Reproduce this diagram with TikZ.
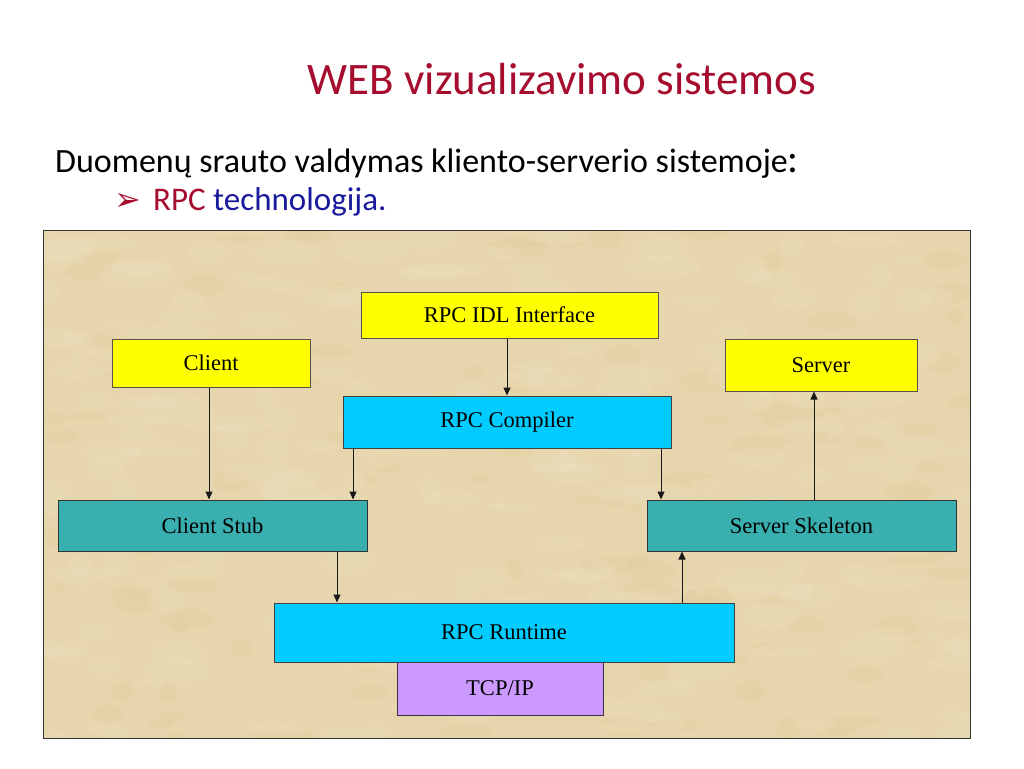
\documentclass[tikz,border=0pt]{standalone}
\usepackage{fontspec}
\setmainfont{Liberation Serif}
\newfontfamily\calibri{Carlito}
\newfontfamily\dejavu{DejaVu Sans}
\usetikzlibrary{arrows.meta}
\definecolor{titlered}{HTML}{A50C2E}
\definecolor{bulletblue}{HTML}{1A1A9C}
\definecolor{parch}{HTML}{E7D6AD}
\definecolor{parchlight}{HTML}{F0E3C4}
\definecolor{parchdark}{HTML}{DCC692}
\definecolor{yel}{HTML}{FFFF00}
\definecolor{cyn}{HTML}{00CCFF}
\definecolor{tealbox}{HTML}{3AAFB0}
\definecolor{purp}{HTML}{CC99FF}
\tikzset{
  box/.style={draw=#1, line width=1pt, inner sep=0pt, font=\fontsize{22.5}{26}\selectfont},
  yelbox/.style={box=black!60!yellow!60!black, fill=yel},
  cynbox/.style={box=black!75, fill=cyn},
  tealb/.style={box=black!80, fill=tealbox},
  purpbox/.style={box=black!70!purp, fill=purp},
  conn/.style={line width=1pt, draw=black!90, -{Triangle[length=8pt,width=7pt]}},
}
\begin{document}
\begin{tikzpicture}[x=1pt,y=-1pt]
\useasboundingbox (0,0) rectangle (1024,768);
\fill[white] (0,0) rectangle (1024,768);
% title
\node[anchor=base, text=titlered, font=\calibri\fontsize{45}{50}\selectfont, inner sep=0pt] (title) at (562,94) {WEB vizualizavimo sistemos};
\node[anchor=base west, font=\calibri\fontsize{34}{38}\selectfont, inner sep=0pt] (sub) at (55,172) {Duomenų srauto valdymas kliento-serverio sistemoje\fontsize{41}{41}\selectfont:};
\node[anchor=base west, text=titlered, font=\dejavu\fontsize{32}{34}\selectfont, inner sep=0pt] (bul) at (114,210) {➢};
\node[anchor=base west, font=\calibri\fontsize{33}{38}\selectfont, inner sep=0pt] (rpc) at (153,210) {\textcolor{titlered}{RPC} \textcolor{bulletblue}{technologija}\textcolor{bulletblue}{.}};
% panel
\fill[parch] (43,230) rectangle (970,738);
\begin{scope}
\clip (43,230) rectangle (970,738);
\pgfmathsetseed{42}
\foreach \i in {1,...,220} {
  \pgfmathsetmacro\px{43+927*rnd}
  \pgfmathsetmacro\py{230+508*rnd}
  \pgfmathsetmacro\rx{10+30*rnd}
  \pgfmathsetmacro\ry{4+10*rnd}
  \fill[parchlight, opacity=0.22] (\px,\py) ellipse [x radius=\rx, y radius=\ry];
}
\foreach \i in {1,...,140} {
  \pgfmathsetmacro\px{43+927*rnd}
  \pgfmathsetmacro\py{230+508*rnd}
  \pgfmathsetmacro\rx{8+20*rnd}
  \pgfmathsetmacro\ry{3+8*rnd}
  \fill[parchdark, opacity=0.15] (\px,\py) ellipse [x radius=\rx, y radius=\ry];
}
\end{scope}
\draw[draw=black!80, line width=1pt] (43,230) rectangle (970,738);
% boxes
\node[yelbox, minimum width=297pt, minimum height=46pt] (idl) at (509.5,315) {RPC IDL Interface};
\node[yelbox, minimum width=198pt, minimum height=48pt] (client) at (211,363) {Client};
\node[yelbox, minimum width=192pt, minimum height=52pt] (server) at (821,365) {Server};
\node[cynbox, minimum width=328pt, minimum height=52pt] (comp) at (507,422) {RPC Compiler};
\node[tealb, minimum width=309pt, minimum height=51pt] (stub) at (212.5,525.5) {Client Stub};
\node[tealb, minimum width=309pt, minimum height=51pt] (skel) at (801.5,525.5) {Server Skeleton};
\node[purpbox, minimum width=206pt, minimum height=53pt] (tcp) at (500,688.5) {TCP/IP};
\node[cynbox, minimum width=460pt, minimum height=59pt] (run) at (504,632.5) {RPC Runtime};
% connectors
\draw[conn] (idl.south -| 507,0) -- (comp.north -| 507,0);
\draw[conn] (client.south -| 209,0) -- (stub.north -| 209,0);
\draw[conn] (comp.south -| 353,0) -- (stub.north -| 353,0);
\draw[conn] (comp.south -| 661,0) -- (skel.north -| 661,0);
\draw[conn] (skel.north -| 814,0) -- (server.south -| 814,0);
\draw[conn] (stub.south -| 337,0) -- (run.north -| 337,0);
\draw[conn] (run.north -| 682,0) -- (skel.south -| 682,0);
\end{tikzpicture}
\end{document}
